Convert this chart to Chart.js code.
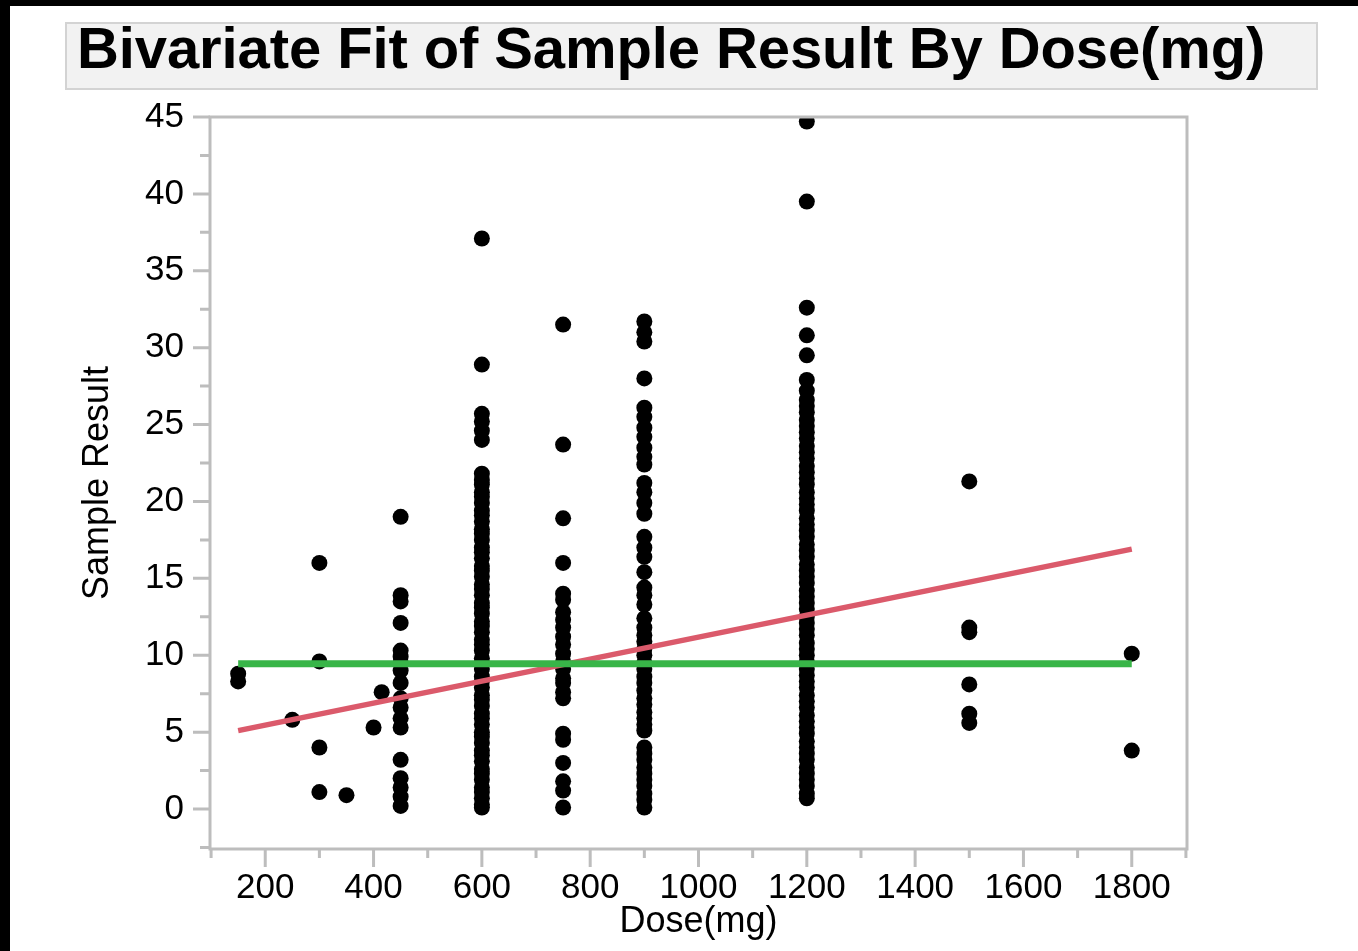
<!DOCTYPE html>
<html>
<head>
<meta charset="utf-8">
<script src="https://cdn.jsdelivr.net/npm/chart.js@4.4.0/dist/chart.umd.min.js"></script>
<style>
  html, body { margin: 0; padding: 0; background: #000; overflow: hidden; }
  #fundo { position: absolute; left: 10px; top: 6px; width: 1348px; height: 945px; background: #fff; }
  #titulo {
    position: absolute; left: 65px; top: 22px; width: 1253px; height: 68px;
    box-sizing: border-box; background: #f2f2f2; border: 2px solid #d3d3d3;
    font: bold 58px "Liberation Sans", Arial, sans-serif; line-height: 47px;
    padding-left: 10px; color: #000; white-space: nowrap; overflow: hidden;
    letter-spacing: -0.1px;
  }
  #grafico { position: absolute; left: 0; top: 0; }
</style>
</head>
<body>
<div id="fundo"></div>
<div id="titulo">Bivariate Fit of Sample Result By Dose(mg)</div>
<canvas id="grafico" width="1358" height="951"></canvas>
<script>
// Dados
const doses = [150, 250, 300, 350, 400, 415, 450, 600, 750, 900, 1200, 1500, 1800];
const resultados = [
    [8.8, 8.3],
    [5.8],
    [16.0, 9.6, 4.0, 1.1],
    [0.9],
    [5.3],
    [7.6],
    [19.0, 13.9, 13.5, 12.1, 10.3, 9.9, 9.5, 9.0, 8.2, 7.2, 6.6, 5.9, 5.3, 3.2, 2.0, 1.4, 0.8, 0.2],
    [37.1, 28.9, 25.7, 25.2, 24.6, 24.0, 21.8, 21.4, 21.1, 20.6, 20.3, 19.9, 19.4, 19.1, 18.7, 18.2,
     17.9, 17.5, 17.0, 16.7, 16.3, 15.8, 15.5, 15.1, 14.6, 14.3, 13.9, 13.4, 13.1, 12.7, 12.2, 11.9,
     11.5, 11.0, 10.7, 10.3, 9.8, 9.5, 9.1, 8.6, 8.3, 7.9, 7.4, 7.1, 6.7, 6.2, 5.9, 5.5, 5.0, 4.7,
     4.3, 3.8, 3.5, 3.1, 2.6, 2.3, 1.9, 1.4, 1.1, 0.7, 0.3, 0.1],
    [31.5, 23.7, 18.9, 16.0, 14.0, 13.6, 12.8, 12.3, 11.8, 11.2, 10.7, 10.1, 9.6, 9.1, 8.5, 8.2,
     7.6, 7.2, 4.9, 4.5, 3.0, 1.8, 1.2, 0.1],
    [31.7, 31.0, 30.4, 28.0, 26.1, 25.5, 24.8, 24.2, 23.5, 22.9, 22.4, 21.2, 20.6, 19.9, 19.2,
     17.7, 17.0, 16.4, 15.4, 14.4, 13.9, 13.3, 12.4, 11.8, 11.3, 10.9, 10.4, 10.0, 9.5, 9.1, 8.6,
     8.2, 7.7, 7.2, 6.8, 6.3, 5.9, 5.5, 5.1, 4.0, 3.6, 3.2, 2.7, 2.3, 1.9, 1.5, 1.0, 0.6, 0.1],
    [44.7, 39.5, 32.6, 30.8, 29.5, 27.9, 27.2, 26.6, 26.2, 25.8, 25.3, 24.9, 24.5, 24.1, 23.6,
     23.2, 22.8, 22.3, 21.9, 21.5, 21.1, 20.6, 20.2, 19.8, 19.4, 18.9, 18.5, 18.1, 17.7, 17.2,
     16.8, 16.4, 15.9, 15.5, 15.1, 14.7, 14.2, 13.8, 13.4, 13.0, 12.5, 12.1, 11.7, 11.3, 10.8,
     10.4, 10.0, 9.6, 9.1, 8.7, 8.3, 7.9, 7.4, 7.0, 6.6, 6.1, 5.7, 5.3, 4.9, 4.4, 4.0, 3.6, 3.2,
     2.7, 2.3, 1.9, 1.5, 1.0, 0.7],
    [21.3, 11.8, 11.5, 8.1, 6.2, 5.6],
    [10.1, 3.8]
];

// Linha de ajuste linear e média
const ajusteDose = [150, 1800];
const ajusteValor = [5.1, 16.9];
const mediaValor = [9.45, 9.45];

// Marcas dos eixos
const ticksX = [100, 200, 300, 400, 500, 600, 700, 800, 900, 1000, 1100, 1200, 1300, 1400, 1500, 1600, 1700, 1800, 1900];
const ticksY = [-2.5, 0, 2.5, 5, 7.5, 10, 12.5, 15, 17.5, 20, 22.5, 25, 27.5, 30, 32.5, 35, 37.5, 40, 42.5, 45];

const pontos = [];
doses.forEach((d, i) => {
    resultados[i].forEach(v => pontos.push({ x: d, y: v }));
});

const corEixo = '#bdbdbd';
const fonteTicks = { family: '"Liberation Sans", Arial, sans-serif', size: 35 };
const fonteTitulo = { family: '"Liberation Sans", Arial, sans-serif', size: 36 };

// desenha moldura e marcas (maiores e menores)
const moldura = {
    id: 'moldura',
    afterDatasetsDraw(chart) {
        const ctx = chart.ctx;
        const area = chart.chartArea;
        const sx = chart.scales.x;
        const sy = chart.scales.y;
        ctx.save();
        ctx.strokeStyle = corEixo;
        ctx.lineWidth = 3;
        ctx.strokeRect(area.left, area.top, area.right - area.left, area.bottom - area.top);
        ctx.beginPath();
        sy.ticks.forEach(t => {
            const y = sy.getPixelForValue(t.value);
            const len = t.value % 5 === 0 ? 17 : 10;
            ctx.moveTo(area.left, y);
            ctx.lineTo(area.left - len, y);
        });
        sx.ticks.forEach(t => {
            const x = sx.getPixelForValue(t.value);
            const len = t.value % 200 === 0 ? 18 : 9;
            ctx.moveTo(x, area.bottom);
            ctx.lineTo(x, area.bottom + len);
        });
        ctx.stroke();
        ctx.restore();
    }
};

new Chart(document.getElementById('grafico'), {
    type: 'scatter',
    data: {
        datasets: [
            {
                data: ajusteDose.map((d, i) => ({ x: d, y: mediaValor[i] })),
                showLine: true,
                borderColor: '#38b548',
                borderWidth: 7,
                pointRadius: 0,
                borderCapStyle: 'butt',
                order: 0
            },
            {
                data: ajusteDose.map((d, i) => ({ x: d, y: ajusteValor[i] })),
                showLine: true,
                borderColor: '#db5a6b',
                borderWidth: 5.5,
                pointRadius: 0,
                borderCapStyle: 'butt',
                order: 1
            },
            {
                data: pontos,
                backgroundColor: '#000',
                borderWidth: 0,
                pointRadius: 8,
                clip: 0,
                order: 2
            }
        ]
    },
    options: {
        responsive: false,
        animation: false,
        devicePixelRatio: 1,
        layout: { padding: { top: 117, right: 171, left: 0, bottom: 0 } },
        plugins: {
            legend: { display: false },
            tooltip: { enabled: false }
        },
        scales: {
            x: {
                type: 'linear',
                min: 98,
                max: 1902,
                afterFit: s => { s.height = 102; },
                afterBuildTicks: s => { s.ticks = ticksX.map(v => ({ value: v })); },
                grid: { display: false, drawTicks: false },
                border: { display: false },
                ticks: {
                    autoSkip: false,
                    maxRotation: 0,
                    padding: 18,
                    color: '#000',
                    font: fonteTicks,
                    callback: v => (v % 200 === 0 ? v : '')
                },
                title: {
                    display: true,
                    text: 'Dose(mg)',
                    color: '#000',
                    font: fonteTitulo,
                    padding: { top: 0, bottom: 7 }
                }
            },
            y: {
                type: 'linear',
                min: -2.6,
                max: 45,
                afterFit: s => { s.width = 210; },
                afterBuildTicks: s => { s.ticks = ticksY.map(v => ({ value: v })); },
                grid: { display: false, drawTicks: false },
                border: { display: false },
                ticks: {
                    autoSkip: false,
                    padding: 26,
                    color: '#000',
                    font: fonteTicks,
                    callback: v => (v % 5 === 0 ? v : '')
                },
                title: {
                    display: true,
                    text: 'Sample Result',
                    color: '#000',
                    font: fonteTitulo,
                    padding: { top: 76, bottom: 0 }
                }
            }
        }
    },
    plugins: [moldura]
});
</script>
</body>
</html>
